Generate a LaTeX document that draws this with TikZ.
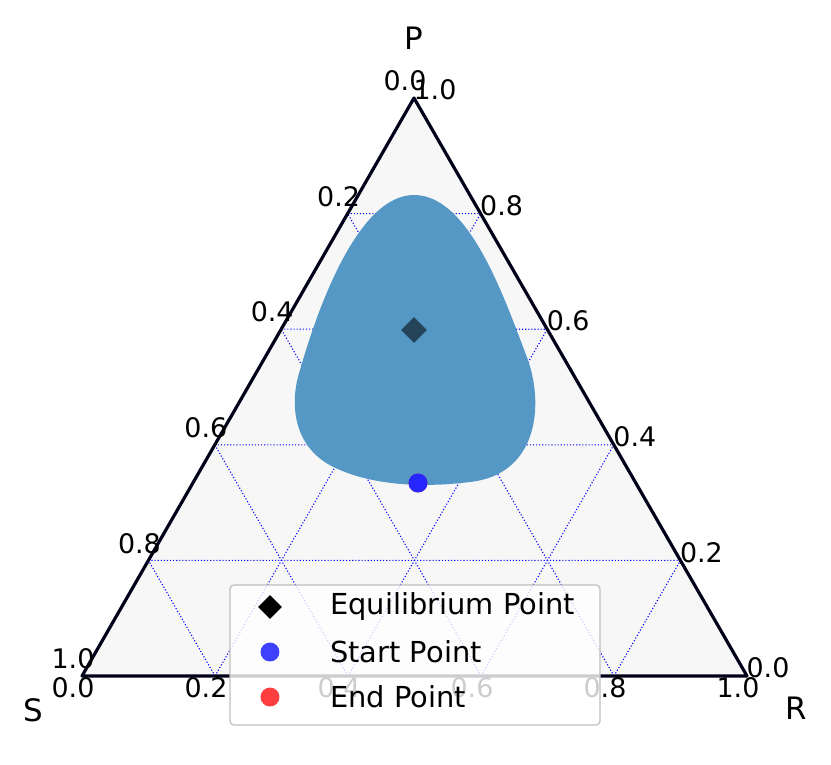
\documentclass[tikz,border=0pt]{standalone}
\usepackage{fontspec}
\setmainfont{DejaVu Sans}
\usetikzlibrary{calc,positioning,shapes}
\definecolor{blobblue}{HTML}{5598C6}
\definecolor{panelgray}{HTML}{F7F7F7}
\begin{document}
\begin{tikzpicture}[x=1bp,y=-1bp]

\tikzstyle{tick}=[font=\fontsize{27}{27}\selectfont, inner sep=0pt]
\tikzstyle{corner}=[font=\fontsize{31}{31}\selectfont, inner sep=0pt]
\tikzstyle{gridline}=[blue, dotted, line width=1.1pt]
\tikzstyle{legtext}=[font=\fontsize{29}{29}\selectfont, inner sep=0pt, anchor=west]

\useasboundingbox (0,0) rectangle (831,765);

\coordinate (S) at (82,676);
\coordinate (R) at (747,676);
\coordinate (P) at (414,98);

% panel
\fill[panelgray] (S) -- (R) -- (P) -- cycle;

% edge points
\foreach \i in {0,...,5}{
  \coordinate (L\i) at ($(P)!\i/5!(S)$);
  \coordinate (R\i) at ($(R)!\i/5!(P)$);
  \coordinate (B\i) at ($(S)!\i/5!(R)$);
}

% grid
\foreach \i/\j in {1/4,2/3,3/2,4/1}{
  \draw[gridline] (L\i) -- (R\j);
  \draw[gridline] (B\i) -- (L\j);
  \draw[gridline] (B\i) -- (R\j);
}

% region
\fill[blobblue] (414,195) .. controls (470,195) and (505,300) .. (528,360)
  .. controls (545,410) and (535,475) .. (470,482)
  .. controls (430,487) and (380,487) .. (340,470)
  .. controls (290,450) and (290,400) .. (300,370)
  .. controls (320,300) and (360,195) .. (414,195) -- cycle;

% frame
\draw[line width=3.2pt, line join=round, draw=black!90!blue] (S) -- (R) -- (P) -- cycle;

% points
\node[diamond, fill=black, fill opacity=0.55, minimum size=26pt, inner sep=0pt] (eq) at (414,330) {};
\node[circle, fill=red, fill opacity=0.7, minimum size=19pt, inner sep=0pt] (end) at (418,483) {};
\node[circle, fill=blue!85!white, minimum size=19pt, inner sep=0pt] (start) at (418,483) {};

% tick labels
\foreach \i/\t in {0/0.0,1/0.2,2/0.4,3/0.6,4/0.8,5/1.0}{
  \node[tick] (tl\i) at ($(L\i)+(-9,-17)$) {\t};
  \node[tick] (tr\i) at ($(R\i)+(21,-8)$) {\t};
  \node[tick] (tb\i) at ($(B\i)+(-9,12)$) {\t};
}

\node[corner] (lp) at (414,38) {P};
\node[corner] (ls) at (33,710) {S};
\node[corner] (lr) at (796,708) {R};

% legend
\draw[rounded corners=4pt, draw=black!25, line width=1.2pt, fill=white, fill opacity=0.8] (230,585) rectangle (600,725);
\node[diamond, fill=black, minimum size=24pt, inner sep=0pt] (m1) at (270,607) {};
\node[circle, fill=blue, fill opacity=0.75, minimum size=19pt, inner sep=0pt] (m2) at (270,652) {};
\node[circle, fill=red, fill opacity=0.75, minimum size=19pt, inner sep=0pt] (m3) at (270,697) {};
\node[legtext] (t1) at (330,607) {Equilibrium Point};
\node[legtext] (t2) at (330,652) {Start Point};
\node[legtext] (t3) at (330,697) {End Point};

\end{tikzpicture}
\end{document}
